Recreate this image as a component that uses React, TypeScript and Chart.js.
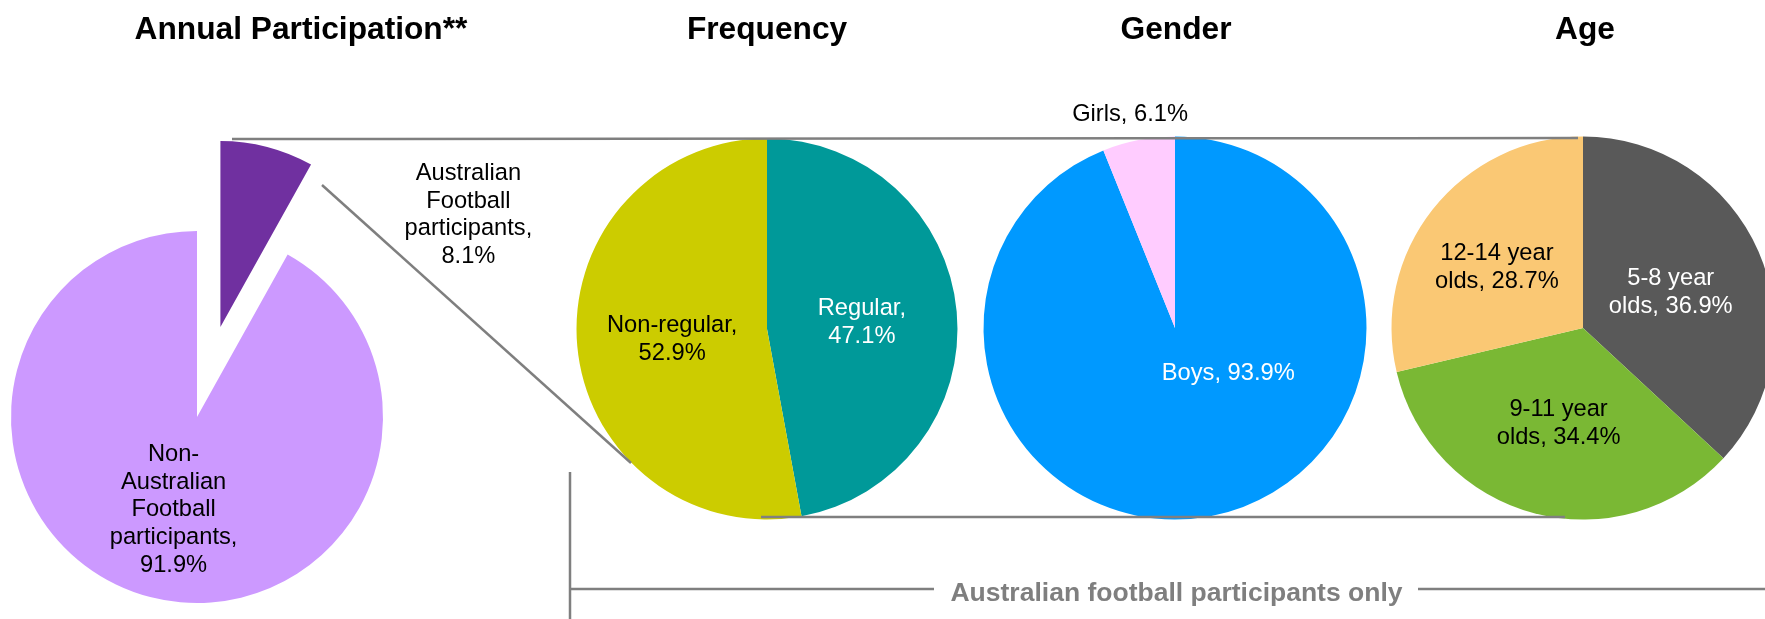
import React, { useEffect, useRef } from "react";
import { Chart, registerables } from "chart.js";

Chart.register(...registerables);

// ---------- data ----------
const annualCategories = ["Australian Football participants", "Non-Australian Football participants"];
const annualValues = [8.1, 91.9];

const frequencyCategories = ["Regular", "Non-regular"];
const frequencyValues = [47.1, 52.9];

const genderCategories = ["Boys", "Girls"];
const genderValues = [93.9, 6.1];

const ageCategories = ["5-8 year olds", "9-11 year olds", "12-14 year olds"];
const ageValues = [36.9, 34.4, 28.7];

const panelTitles = ["Annual Participation**", "Frequency", "Gender", "Age"];
const bracketLabel = "Australian football participants only";

// ---------- layout / style ----------
const FONT = "'Liberation Sans', Arial, Helvetica, sans-serif";
const LABEL_SIZE = 23.7;
const LINE_H = 27.7;
const CAP = 0.716 * LABEL_SIZE;
const GRAY = "#7F7F7F";

type PieSpec = {
  key: string;
  categories: string[];
  values: number[];
  colors: string[];
  textColors: string[];
  cx: number;
  cy: number;
  radius: number;
  w: number;
  h: number;
  wrap: number;
  shift?: [number, number][];
  explode?: number[];
};

const pies: PieSpec[] = [
  {
    key: "annual",
    categories: annualCategories,
    values: annualValues,
    colors: ["#7030A0", "#CC99FF"],
    textColors: ["#000000", "#000000"],
    cx: 197,
    cy: 417,
    radius: 186,
    w: 720,
    h: 620,
    wrap: 140,
    shift: [[224.6, -24], [0, 1]],
    explode: [93, 0],
  },
  {
    key: "frequency",
    categories: frequencyCategories,
    values: frequencyValues,
    colors: ["#009999", "#CCCC00"],
    textColors: ["#FFFFFF", "#000000"],
    cx: 767,
    cy: 329,
    radius: 190.5,
    w: 420,
    h: 420,
    wrap: 145,
  },
  {
    key: "gender",
    categories: genderCategories,
    values: genderValues,
    colors: ["#0099FF", "#FFCCFF"],
    textColors: ["#FFFFFF", "#000000"],
    cx: 1175,
    cy: 328,
    radius: 191.5,
    w: 480,
    h: 500,
    wrap: 200,
    shift: [[35, -50.5], [-26.7, -121.5]],
  },
  {
    key: "age",
    categories: ageCategories,
    values: ageValues,
    colors: ["#595959", "#7AB834", "#FAC874"],
    textColors: ["#FFFFFF", "#000000", "#000000"],
    cx: 1583,
    cy: 328,
    radius: 191.5,
    w: 420,
    h: 420,
    wrap: 132,
    shift: [[0, 1], [0, 1], [-11, -3]],
  },
];

const titleX = [301, 767, 1176, 1585];
const titleBaseline = 38.5;

function wrapText(ctx: CanvasRenderingContext2D, text: string, maxW: number): string[] {
  const tokens: { t: string; space: boolean }[] = [];
  text.split(" ").forEach((word, wi) => {
    const pieces = word.split(/(?<=-)/);
    pieces.forEach((p, pi) => tokens.push({ t: p, space: wi > 0 && pi === 0 }));
  });
  const lines: string[] = [];
  let line = "";
  tokens.forEach((tok) => {
    const cand = line ? line + (tok.space ? " " : "") + tok.t : tok.t;
    if (!line || ctx.measureText(cand).width <= maxW) {
      line = cand;
    } else {
      lines.push(line);
      line = tok.t;
    }
  });
  if (line) lines.push(line);
  return lines;
}

function makePlugin(spec: PieSpec) {
  return {
    id: "pieExtras_" + spec.key,
    afterDatasetsUpdate(chart: any) {
      if (!spec.explode) return;
      const meta = chart.getDatasetMeta(0);
      meta.data.forEach((arc: any, i: number) => {
        const d = spec.explode![i] || 0;
        if (!d) return;
        const mid = (arc.startAngle + arc.endAngle) / 2;
        arc.x += Math.cos(mid) * d;
        arc.y += Math.sin(mid) * d;
      });
    },
    afterDatasetsDraw(chart: any) {
      const ctx: CanvasRenderingContext2D = chart.ctx;
      const meta = chart.getDatasetMeta(0);
      ctx.save();
      ctx.font = `${LABEL_SIZE}px ${FONT}`;
      ctx.textAlign = "center";
      ctx.textBaseline = "alphabetic";
      meta.data.forEach((arc: any, i: number) => {
        const text = `${spec.categories[i]}, ${spec.values[i].toFixed(1)}%`;
        const lines = wrapText(ctx, text, spec.wrap);
        const p = arc.getCenterPoint();
        const [dx, dy] = spec.shift ? spec.shift[i] : [0, 0];
        const x = p.x + dx;
        const y0 = p.y + dy;
        const n = lines.length;
        ctx.fillStyle = spec.textColors[i];
        lines.forEach((ln, k) => {
          const y = y0 + (k - (n - 1) / 2) * LINE_H + CAP / 2;
          ctx.fillText(ln, x, y);
        });
      });
      ctx.restore();
    },
  };
}

function PieCanvas({ spec }: { spec: PieSpec }) {
  const ref = useRef<HTMLCanvasElement>(null);
  useEffect(() => {
    const canvas = ref.current!;
    const chart = new Chart(canvas, {
      type: "pie",
      data: {
        labels: spec.categories,
        datasets: [
          {
            data: spec.values,
            backgroundColor: spec.colors,
            borderWidth: 0,
            hoverOffset: 0,
          },
        ],
      },
      options: {
        responsive: false,
        maintainAspectRatio: false,
        animation: false,
        radius: spec.radius,
        layout: { padding: 0 },
        events: [],
        plugins: {
          legend: { display: false },
          tooltip: { enabled: false },
          title: { display: false },
        },
      } as any,
      plugins: [makePlugin(spec) as any],
    });
    return () => chart.destroy();
  }, [spec]);
  return (
    <canvas
      ref={ref}
      width={spec.w}
      height={spec.h}
      style={{
        position: "absolute",
        left: spec.cx - spec.w / 2,
        top: spec.cy - spec.h / 2,
        width: spec.w,
        height: spec.h,
      }}
    />
  );
}

export default function App() {
  return (
    <div
      style={{
        position: "fixed",
        left: 0,
        top: 0,
        width: 1765,
        height: 619,
        overflow: "hidden",
        background: "#FFFFFF",
      }}
    >
      {pies.map((s) => (
        <PieCanvas key={s.key} spec={s} />
      ))}
      <svg
        width={1765}
        height={619}
        style={{ position: "absolute", left: 0, top: 0, pointerEvents: "none" }}
      >
        {/* connectors */}
        <line x1={232} y1={139} x2={1578} y2={138} stroke={GRAY} strokeWidth={2.5} />
        <line x1={322} y1={185} x2={631} y2={463} stroke={GRAY} strokeWidth={2.5} />
        <line x1={761} y1={517} x2={1565} y2={517} stroke={GRAY} strokeWidth={2.5} />
        {/* bracket */}
        <line x1={570} y1={472} x2={570} y2={619} stroke={GRAY} strokeWidth={2.5} />
        <line x1={570} y1={589} x2={934} y2={589} stroke={GRAY} strokeWidth={2.5} />
        <line x1={1418} y1={589} x2={1765} y2={589} stroke={GRAY} strokeWidth={2.5} />
        <text
          x={1176.5}
          y={600.5}
          textAnchor="middle"
          fontFamily={FONT}
          fontWeight="bold"
          fontSize={26.5}
          fill={GRAY}
        >
          {bracketLabel}
        </text>
        {panelTitles.map((t, i) => (
          <text
            key={t}
            x={titleX[i]}
            y={titleBaseline}
            textAnchor="middle"
            fontFamily={FONT}
            fontWeight="bold"
            fontSize={31.7}
            fill="#000000"
          >
            {t}
          </text>
        ))}
      </svg>
    </div>
  );
}
